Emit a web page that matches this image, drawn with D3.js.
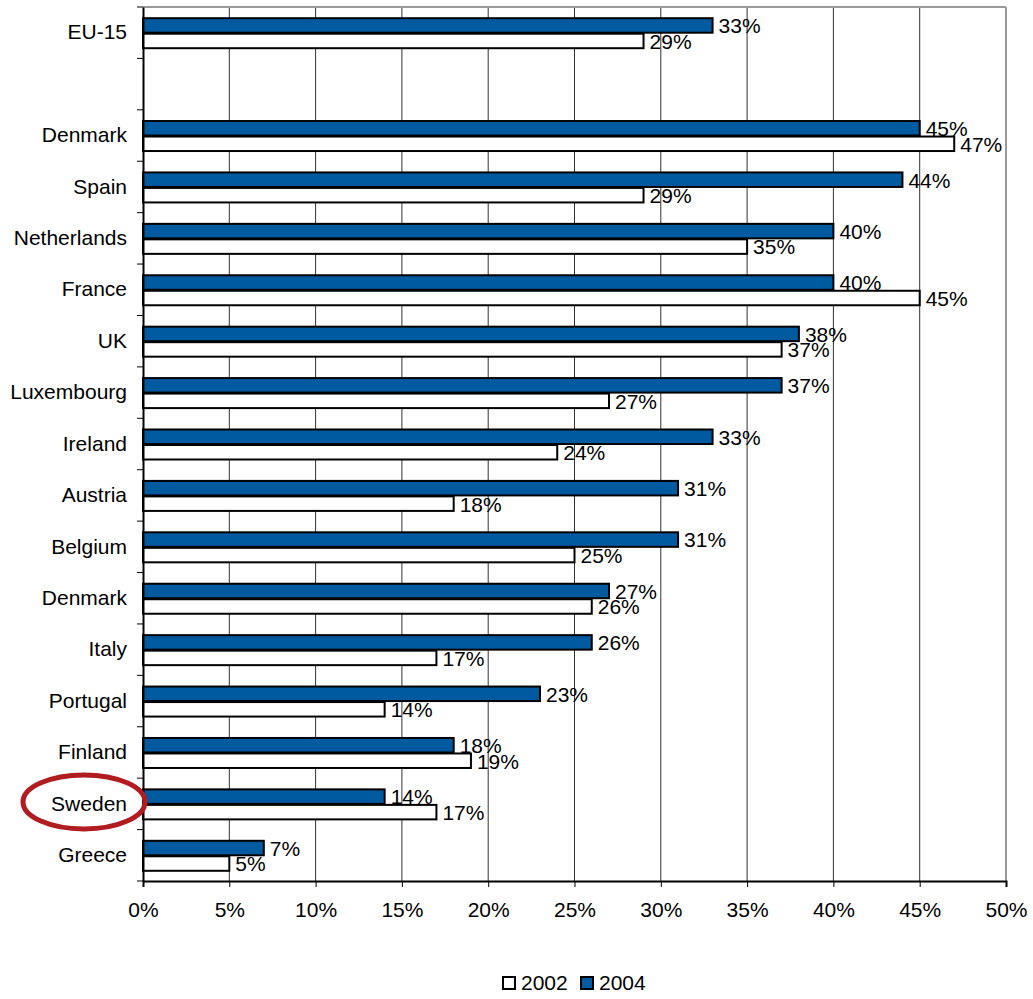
<!DOCTYPE html>
<html><head><meta charset="utf-8">
<script src="https://cdn.jsdelivr.net/npm/d3@7"></script>
<style>body{margin:0;background:#fff;} text{font-family:"Liberation Sans",Arial,sans-serif;}</style>
</head><body>
<svg id="c" width="1033" height="999"></svg>
<script>
const categories = ["EU-15", "", "Denmark", "Spain", "Netherlands", "France", "UK", "Luxembourg", "Ireland", "Austria", "Belgium", "Denmark", "Italy", "Portugal", "Finland", "Sweden", "Greece"];
const values2004 = [33, null, 45, 44, 40, 40, 38, 37, 33, 31, 31, 27, 26, 23, 18, 14, 7];
const values2002 = [29, null, 47, 29, 35, 45, 37, 27, 24, 18, 25, 26, 17, 14, 19, 17, 5];
const xTicks = [0, 5, 10, 15, 20, 25, 30, 35, 40, 45, 50];
const seriesNames = ["2002", "2004"];
const highlighted = "Sweden";

const FS = 21;
const svg = d3.select("#c");
const m = {l:143, r:1006, t:7, b:881};
const blue = "#005AA0";
const x = d3.scaleLinear().domain([0,50]).range([m.l, m.r]);
const idx = categories.map((d,i)=>i);
const y = d3.scaleBand().domain(idx).range([m.t, m.b]);
const inner = d3.scaleBand().domain(["2004","2002"]).range([0, 31]);
const pad = (y.bandwidth()-31)/2;

// grid
svg.append("g").selectAll("line").data(xTicks.slice(1,-1)).join("line")
  .attr("x1", d=>x(d)).attr("x2", d=>x(d)).attr("y1", m.t).attr("y2", m.b)
  .attr("stroke","#333").attr("stroke-width",1);
// frame top/right
svg.append("line").attr("x1",m.l).attr("x2",m.r).attr("y1",m.t).attr("y2",m.t).attr("stroke","#999").attr("stroke-width",2);
svg.append("line").attr("x1",m.r).attr("x2",m.r).attr("y1",m.t).attr("y2",m.b).attr("stroke","#999").attr("stroke-width",2);

const rows = idx.map(i=>({i, v4: values2004[i], v2: values2002[i]})).filter(d=>d.v4!=null);
const g = svg.append("g");
rows.forEach(d=>{
  const y0 = y(d.i)+pad;
  [["2004", d.v4, blue], ["2002", d.v2, "#fff"]].forEach(([s,v,col])=>{
    const yy = y0 + inner(s);
    g.append("rect").attr("x", x(0)).attr("y", yy+1).attr("width", x(v)-x(0)).attr("height", inner.bandwidth()-1)
      .attr("fill", col).attr("stroke","#000").attr("stroke-width",2);
    g.append("text").attr("x", x(v)+6).attr("y", yy + inner.bandwidth()/2+1).attr("dy","0.35em")
      .attr("font-size",FS).attr("fill","#000").text(v+"%");
  });
});

// axes
const xa = svg.append("g").attr("transform",`translate(0,${m.b})`)
  .call(d3.axisBottom(x).tickValues(xTicks).tickFormat(d=>d+"%").tickSize(6).tickPadding(15));
xa.select(".domain").attr("stroke","#000").attr("stroke-width",2);
xa.selectAll(".tick line").attr("stroke","#000");
xa.selectAll("text").attr("font-size",FS).attr("font-family","Liberation Sans, Arial, sans-serif").attr("fill","#000");

const ya = svg.append("g").attr("transform",`translate(${m.l},0)`)
  .call(d3.axisLeft(y).tickFormat(i=>categories[i]).tickSize(0).tickPadding(16));
ya.select(".domain").attr("stroke","#000").attr("stroke-width",2);
ya.selectAll("text").attr("font-size",FS).attr("font-family","Liberation Sans, Arial, sans-serif").attr("fill","#000");
// boundary ticks on left axis
const bounds = idx.map(i=>y(i)).concat([m.b]);
svg.append("g").selectAll("line").data(bounds).join("line")
  .attr("x1", m.l-6).attr("x2", m.l).attr("y1", d=>d).attr("y2", d=>d).attr("stroke","#000");

// highlight ellipse
const hi = categories.indexOf(highlighted);
svg.append("ellipse").attr("cx", 84).attr("cy", y(hi)+y.bandwidth()/2-2).attr("rx", 61).attr("ry", 27)
  .attr("fill","none").attr("stroke","#B01C1F").attr("stroke-width",5);

// legend
const lg = svg.append("g");
const lx = [503, 581];
seriesNames.forEach((s,k)=>{
  lg.append("rect").attr("x", lx[k]).attr("y", 977).attr("width", 12).attr("height", 12)
    .attr("fill", k===0?"#fff":blue).attr("stroke","#000").attr("stroke-width",2);
  lg.append("text").attr("x", lx[k]+18).attr("y", 983).attr("dy","0.35em").attr("font-size",FS).text(s);
});
</script>
</body></html>
